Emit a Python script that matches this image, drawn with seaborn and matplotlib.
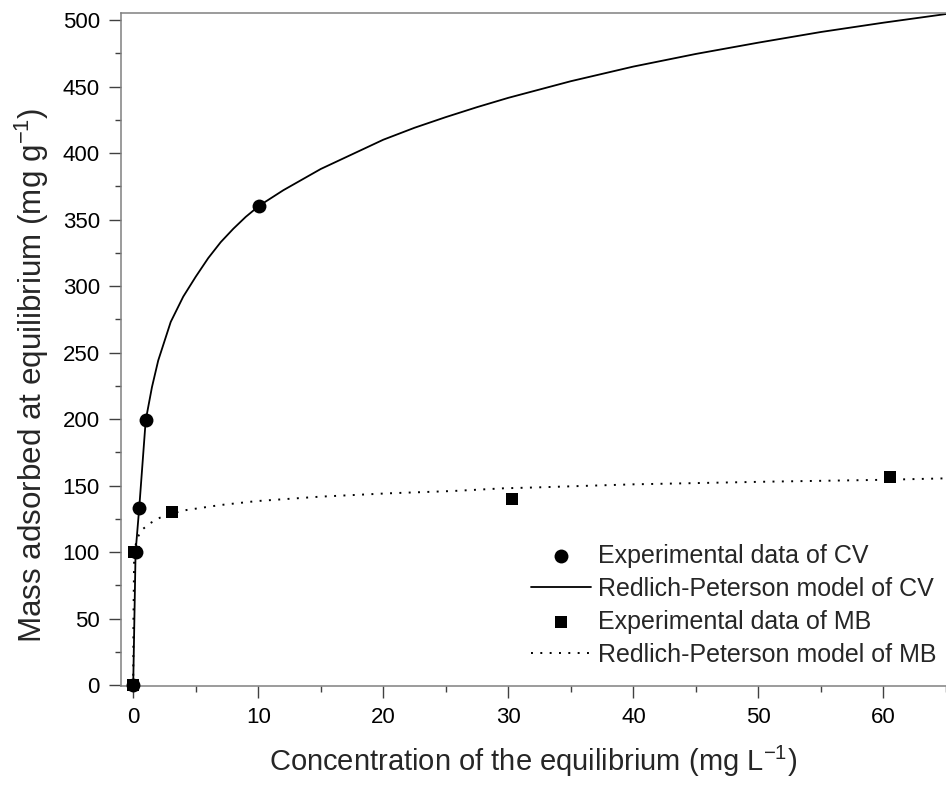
import matplotlib
matplotlib.use("Agg")
import matplotlib.pyplot as plt
import seaborn as sns
import pandas as pd
from matplotlib.ticker import MultipleLocator

# Experimental data
cv_x = [0.0, 0.19, 0.48, 1.02, 10.08]
cv_y = [0.0, 100.0, 133.0, 199.0, 360.4]
mb_x = [0.0, 0.05, 3.12, 30.3, 60.5]
mb_y = [0.0, 100.0, 129.8, 139.8, 156.6]

# Redlich-Peterson model curves
cv_fit_x = [0.0, 0.19, 0.48, 1.0, 1.5, 2.0, 3.0, 4.0, 5.0, 6.0, 7.0, 8.0, 9.0, 10.08,
            12.0, 15.0, 17.5, 20.0, 22.5, 25.0, 27.5, 30.0, 35.0, 40.0, 45.0, 50.0,
            55.0, 60.0, 65.0]
cv_fit_y = [0.0, 100.0, 133.0, 199.0, 224.0, 244.0, 273.0, 292.0, 307.0, 321.0, 333.0,
            343.0, 352.0, 360.4, 372.0, 388.0, 399.0, 410.0, 419.0, 427.0, 434.5, 441.5,
            454.0, 465.0, 474.5, 483.0, 491.0, 498.0, 504.5]
mb_fit_x = [0.0, 0.02, 0.08, 0.3, 0.67, 1.34, 2.14, 3.1, 4.27, 6.94, 9.87, 14.9,
            20.3, 25.6, 29.6, 32.3, 40.0, 50.7, 60.0, 65.0]
mb_fit_y = [0.0, 50.0, 100.0, 110.0, 116.5, 121.6, 125.8, 129.0, 131.6, 135.3, 138.3, 141.6,
            144.1, 145.9, 147.9, 148.6, 150.9, 152.9, 154.3, 155.4]

labels = ["Experimental data of CV", "Redlich-Peterson model of CV",
          "Experimental data of MB", "Redlich-Peterson model of MB"]

sns.set_theme(style="ticks")
plt.rcParams['font.family'] = ['Liberation Sans', 'DejaVu Sans']
plt.rcParams['mathtext.fontset'] = 'custom'
plt.rcParams['mathtext.rm'] = 'Liberation Sans'
plt.rcParams['mathtext.it'] = 'Liberation Sans:italic'

fig = plt.figure(figsize=(9.46, 7.96), dpi=100)
ax = fig.add_axes([120.7 / 946, 110.3 / 796, (946 - 120.7) / 946, (783.3 - 110.3) / 796])

df_cv = pd.DataFrame({"x": cv_x, "y": cv_y})
df_mb = pd.DataFrame({"x": mb_x, "y": mb_y})
df_cvf = pd.DataFrame({"x": cv_fit_x, "y": cv_fit_y})
df_mbf = pd.DataFrame({"x": mb_fit_x, "y": mb_fit_y})

sns.lineplot(data=df_cvf, x="x", y="y", ax=ax, color="black", lw=1.3, sort=False,
             estimator=None, label=labels[1])
sns.lineplot(data=df_mbf, x="x", y="y", ax=ax, color="black", lw=1.4, sort=False,
             estimator=None, label=labels[3], linestyle=(0, (1, 3.8)))
sns.scatterplot(data=df_cv, x="x", y="y", ax=ax, color="black", marker="o", s=100,
                edgecolor="black", linewidth=0, label=labels[0], zorder=5, clip_on=False)
sns.scatterplot(data=df_mb, x="x", y="y", ax=ax, color="black", marker="s", s=80,
                edgecolor="black", linewidth=0, label=labels[2], zorder=6, clip_on=False)

ax.set_xlim(-1, 65)
ax.set_ylim(-0.5, 505.5)
ax.xaxis.set_major_locator(MultipleLocator(10))
ax.xaxis.set_minor_locator(MultipleLocator(5))
ax.yaxis.set_major_locator(MultipleLocator(50))
ax.yaxis.set_minor_locator(MultipleLocator(25))

for s in ["left", "bottom", "top"]:
    ax.spines[s].set_color("#808080")
    ax.spines[s].set_linewidth(1.1)
ax.spines["right"].set_visible(False)
ax.tick_params(which="major", length=8.5, width=1.0, color="#404040", labelsize=16,
               labelcolor="black", pad=6.5, direction="out")
ax.tick_params(which="minor", length=4.5, width=1.0, color="#404040", direction="out")
ax.tick_params(top=False, right=False)

ax.set_xlabel(r"Concentration of the equilibrium (mg L$^{-1}$)", fontsize=21, labelpad=12)
ax.set_ylabel(r"Mass adsorbed at equilibrium (mg g$^{-1}$)", fontsize=22.6)
ax.yaxis.set_label_coords(-0.085, 0.461)

h, l = ax.get_legend_handles_labels()
order = [l.index(t) for t in labels]
ax.legend([h[i] for i in order], [l[i] for i in order], loc="upper left",
          bbox_to_anchor=(0.497, 0.211), frameon=False, fontsize=18,
          handlelength=2.4, handletextpad=0.28, labelspacing=0.36, markerscale=1.0,
          borderpad=0, borderaxespad=0)

fig.savefig("out.png", dpi=100)
